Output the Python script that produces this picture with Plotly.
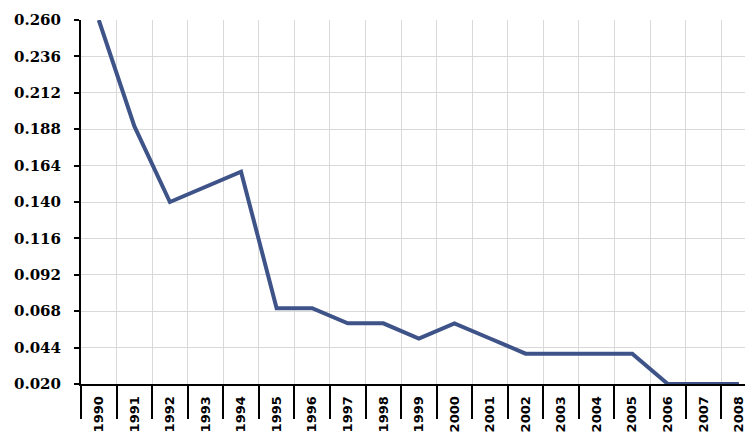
import plotly.graph_objects as go

years = [str(y) for y in range(1990, 2009)]
values = [0.260, 0.190, 0.140, 0.150, 0.160, 0.070, 0.070, 0.060, 0.060, 0.050,
          0.060, 0.050, 0.040, 0.040, 0.040, 0.040, 0.020, 0.020, 0.020]
y_ticks = [0.020, 0.044, 0.068, 0.092, 0.116, 0.140, 0.164, 0.188, 0.212, 0.236, 0.260]
y_tick_text = [f"{v:.3f}" for v in y_ticks]

fig = go.Figure()
fig.add_trace(go.Scatter(
    x=years, y=values, mode="lines",
    line=dict(color="#3e5388", width=4),
    hoverinfo="x+y",
))

fig.update_layout(
    width=753, height=437,
    margin=dict(l=73, r=0, t=12, b=61),
    paper_bgcolor="white", plot_bgcolor="white",
    showlegend=False,
    xaxis=dict(
        type="category",
        range=[-0.5, 18.62],
        tickson="boundaries",
        ticks="outside", ticklen=33, tickwidth=2, tickcolor="black",
        showgrid=True, gridcolor="#d9d9d9", gridwidth=1,
        showline=True, linecolor="black", linewidth=2,
        tickangle=-90,
        tickfont=dict(family="DejaVu Sans", size=13, color="black", weight="bold"),
        ticklabelstandoff=5,
        automargin=False,
        zeroline=False,
    ),
    yaxis=dict(
        range=[0.020, 0.260],
        tickvals=y_ticks, ticktext=y_tick_text,
        ticks="outside", ticklen=5, tickwidth=2, tickcolor="black",
        showgrid=True, gridcolor="#d9d9d9", gridwidth=1,
        showline=True, linecolor="black", linewidth=2,
        tickfont=dict(family="DejaVu Serif", size=15, color="black", weight="bold"),
        ticklabelstandoff=10,
        automargin=False,
        zeroline=False,
    ),
)

fig.write_html("out.html")
